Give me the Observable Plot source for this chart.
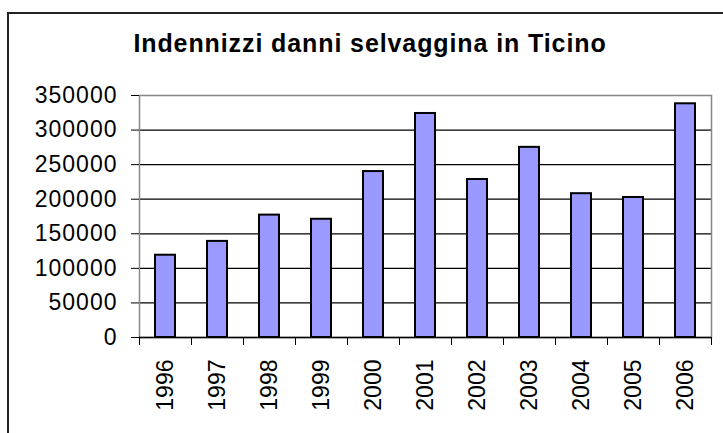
<!DOCTYPE html>
<html>
<head>
<meta charset="utf-8">
<script src="https://cdn.jsdelivr.net/npm/d3@7"></script>
<script src="https://cdn.jsdelivr.net/npm/@observablehq/plot@0.6"></script>
<style>
  html, body { margin: 0; padding: 0; background: #fff; }
  #wrap { position: relative; width: 723px; height: 433px; overflow: hidden; font-family: Arial, "Liberation Sans", sans-serif; }
  #border { position: absolute; left: 7px; top: 12px; width: 800px; height: 500px; border-left: 2px solid #222; border-top: 2px solid #222; box-sizing: border-box; }
  #title { position: absolute; left: 0; top: 0; width: 740px; height: 60px; box-sizing: border-box; padding-top: 31px; text-align: center; font-weight: bold; font-size: 25px; line-height: 25px; letter-spacing: 0.9px; color: #000; }
  #chart { position: absolute; left: 0; top: 60px; }
  .ylab text { letter-spacing: 1px; }
</style>
</head>
<body>
<div id="wrap">
  <div id="border"></div>
  <div id="title">Indennizzi danni selvaggina in Ticino</div>
  <div id="chart"></div>
</div>
<script>
const years = ["1996","1997","1998","1999","2000","2001","2002","2003","2004","2005","2006"];
const values = [119000, 139000, 177000, 171000, 240000, 324000, 228500, 275000, 208000, 202500, 338000];
const yTicks = [0, 50000, 100000, 150000, 200000, 250000, 300000, 350000];

const data = years.map((y, i) => ({i, year: y, value: values[i]}));
const bandEdges = d3.range(0, years.length + 1);
const bandCenters = d3.range(0, years.length).map(i => i + 0.5);

const chart = Plot.plot({
  width: 723,
  height: 373,
  marginTop: 35,
  marginBottom: 96,
  marginLeft: 139,
  marginRight: 12,
  style: { fontFamily: 'Arial, "Liberation Sans", sans-serif', fontSize: "23px", color: "#000", background: "transparent" },
  x: { type: "linear", domain: [0, years.length], axis: null },
  y: { domain: [0, 350000], axis: null },
  marks: [
    Plot.ruleY(yTicks.slice(1, -1), { stroke: "#000", strokeWidth: 1.3 }),
    Plot.frame({ stroke: "#888", strokeWidth: 1.5 }),
    Plot.rectY(data, { x1: "i", x2: d => d.i + 1, y: "value", fill: "#9999ff", stroke: "#000", strokeWidth: 2, insetLeft: 16, insetRight: 16 }),
    Plot.ruleY([0], { stroke: "#000", strokeWidth: 1.5 }),
    Plot.axisY({ ticks: yTicks, tickFormat: d3.format("d"), tickSize: 8, tickPadding: 14, stroke: "#000", fontSize: 23, label: null, className: "ylab" }),
    Plot.axisX({ ticks: bandEdges, tickFormat: () => "", tickSize: 8, stroke: "#000", label: null }),
    Plot.axisX({ ticks: bandCenters, tickFormat: v => years[Math.floor(v)], tickSize: 0, tickPadding: 22, tickRotate: -90, fontSize: 23, label: null })
  ]
});
document.getElementById("chart").appendChild(chart);
</script>
</body>
</html>
